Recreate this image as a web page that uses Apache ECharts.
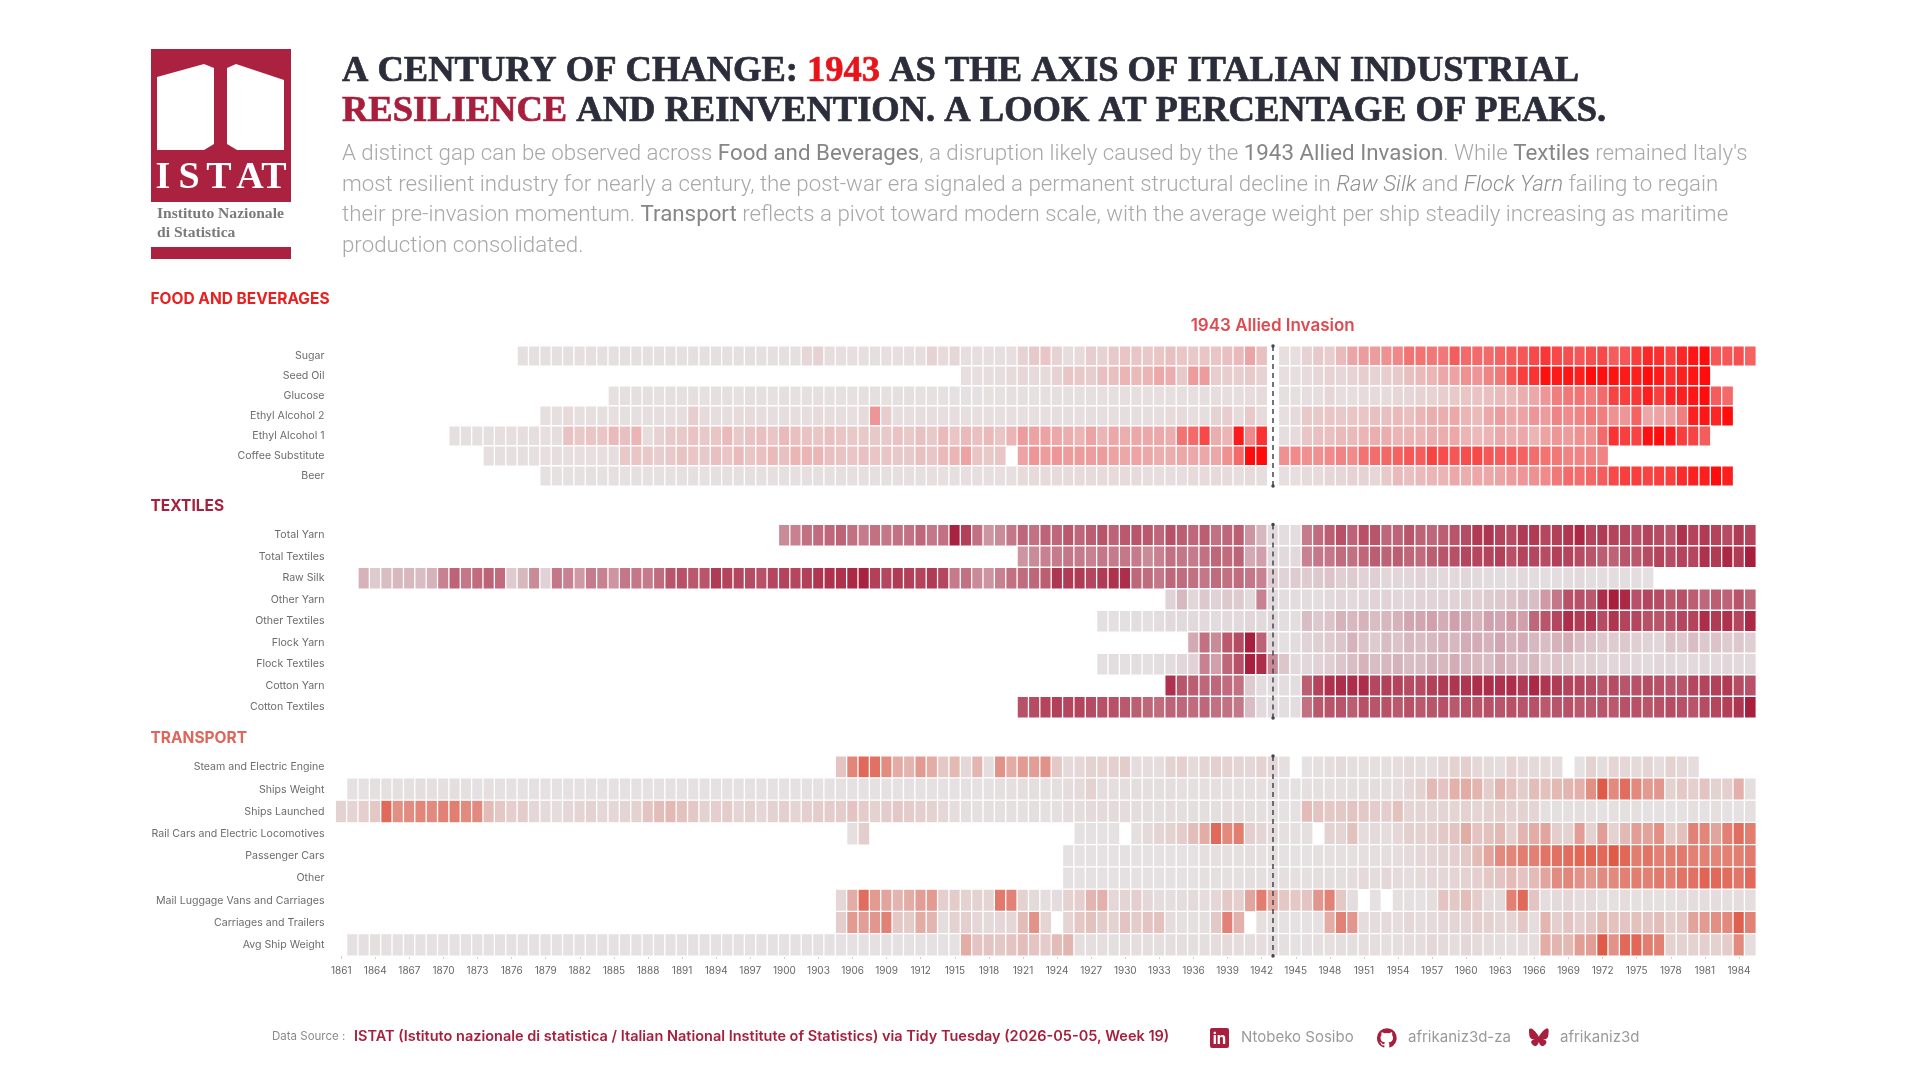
<!DOCTYPE html>
<html>
<head>
<meta charset="utf-8">
<title>A Century of Change</title>
<script src="https://cdn.jsdelivr.net/npm/echarts@6/dist/echarts.min.js"></script>
<style>
  html, body { margin: 0; padding: 0; background: #ffffff; }
  #chart { width: 1920px; height: 1080px; }
</style>
</head>
<body>
<div id="chart"></div>
<script>
// Year axis shared by the three panels
const years = Array.from({ length: 125 }, (_, i) => String(1861 + i));

// Each line of values is a share of that indicator's peak (0-100); null is a missing year
const row = (start, values) => Array(start - 1861).fill(null).concat(values);
const _ = null;

// Food and beverages
const sugar = row(1877, [8,8,8,9,
  8,9,10,8,9,8,9,9,8,8, 9,8,8,9,8,9,8,8,8,9, 9,16,18,12,10,10,10,9,10,10, 9,12,18,14,16,10,10,10,10,10,
  18,22,24,18,12,14,20,18,22,24, 24,22,24,26,24,22,24,24,26,28, 35,26,_,10,10,18,22,20,28,35,
  38,38,42,45,52,52,50,50,60,55, 55,55,58,60,62,68,75,68,65,62, 65,68,60,62,72,85,80,70,85,95, 100,62,62,65,58]);
const seedOil = row(1916, [10,10,12,12,14,
  16,14,14,18,24,22,20,26,26,30, 28,30,34,32,22,38,38,20,20,20, 22,18,_,10,10,14,16,18,16,18,
  20,18,20,22,26,28,30,34,36,42, 40,46,50,62,72,78,98,92,95,90, 100,98,96,92,90,100,92,80,88,95, 100]);
const glucose = row(1885, [7,8,8,9,7,8,
  8,8,7,8,8,7,8,8,7,8, 7,8,8,7,7,7,8,8,7,8, 8,7,7,7,6,6,6,7,7,8,
  8,7,8,8,8,9,9,10,9,10, 10,10,10,9,10,10,12,12,12,12, 13,14,_,9,9,12,12,16,12,12,
  14,14,14,16,16,18,18,20,22,24, 25,26,28,28,32,34,40,48,50,52, 48,55,70,72,75,90,72,85,88,95, 100,60,55]);
const ethylAlcohol2 = row(1879, [8,10,
  14,9,10,9,10,9,9,12,12,10, 12,20,14,12,12,14,14,12,12,12, 12,12,14,12,12,10,14,40,20,12, 12,12,12,12,12,10,10,10,10,10,
  10,10,10,12,12,10,12,12,12,12, 12,12,12,14,14,12,12,18,20,14, 22,14,_,10,14,22,22,24,22,24,
  24,26,26,28,26,30,32,32,34,30, 28,34,38,34,36,40,38,46,44,46, 50,48,42,40,58,34,36,38,48,88, 95,85,100]);
const ethylAlcohol1 = row(1871, [8,8,9,9,10,10,12,12,10,12,
  25,22,24,24,28,26,30,13,18,22, 22,25,22,24,28,22,25,26,24,28, 26,25,24,26,24,22,22,22,22,25, 22,26,22,28,24,28,26,28,24,30,
  38,36,36,34,32,30,36,30,34,32, 34,34,34,32,52,55,68,32,30,92, 45,78,_,12,14,24,26,26,28,28,
  30,32,32,30,30,30,32,32,34,30, 28,30,34,32,34,30,36,40,38,42, 42,55,78,72,70,98,100,92,72,70, 60]);
const coffeeSubstitute = row(1874, [8,8,8,9,9,10,12,
  11,10,10,10,12,22,24,22,20,22, 25,24,22,26,24,28,24,26,28,26, 30,30,30,26,25,24,26,24,24,22, 22,26,24,28,30,36,24,22,24,_,
  36,40,38,40,38,38,38,38,36,34, 36,34,32,32,34,34,34,34,42,55, 100,100,_,42,44,42,42,44,46,44,
  52,54,56,58,62,60,70,66,62,66, 68,62,60,60,58,54,52,50,46,46, 46,46]);
const beer = row(1879, [7,7,
  7,7,8,7,8,7,8,7,7,7, 8,8,7,8,8,8,8,8,8,8, 8,8,8,8,8,8,9,9,9,10, 10,9,10,10,9,10,10,10,10,10,
  14,14,14,14,14,14,14,14,14,14, 14,12,12,12,12,14,14,14,14,12, 14,12,_,10,10,14,14,16,16,18,
  18,16,22,28,26,28,30,30,34,32, 34,34,36,38,40,42,44,50,55,54, 56,60,68,72,72,70,72,72,82,88, 90,100,90]);

// Textiles
const totalYarn = row(1900, [45,
  48,55,58,60,62,55,50,55,52,55, 55,60,52,55,98,82,55,42,45,52, 60,55,62,60,68,60,65,70,62,68,
  70,68,60,72,65,60,65,55,60,65, 42,30,12,10,10,50,58,65,72,62, 72,70,60,62,70,62,60,65,70,75,
  85,88,80,75,85,85,78,82,88,95, 80,85,80,78,72,80,75,70,90,80, 85,80,75,85,80]);
const totalTextiles = row(1921, [42,45,48,50,52,50,48,52,50,52,
  50,45,48,55,52,50,55,60,58,62, 35,38,14,14,14,48,52,52,58,55, 60,65,62,65,60,58,65,70,72,78,
  78,80,82,72,80,78,75,82,80,75, 70,65,62,70,68,75,80,75,80,78, 90,85,95,85,100]);
const rawSilk = row(1863, [32,22,28,30,30,28,32,48,
  62,52,58,62,58,22,30,45,18,52, 48,40,50,48,42,52,52,50,58,70, 72,68,70,85,80,78,75,72,78,80,
  78,82,88,90,90,95,98,82,78,85, 82,80,85,78,50,55,45,42,48,55, 58,60,65,88,85,85,78,85,90,92,
  60,58,52,60,58,55,52,58,55,58, 52,48,20,18,22,22,24,26,20,22, 18,20,16,16,16,18,16,14,14,16,
  14,12,12,12,14,12,10,10,12,14, 10,10,10,10,10,8]);
const otherYarn = row(1934, [18,30,16,24,18,24,22,
  14,48,14,10,12,12,10,14,16,14, 16,18,18,16,16,18,18,18,18,20, 20,22,24,26,28,28,40,52,72,72,
  68,92,100,95,72,78,75,68,72,65, 60,65,62,70,60]);
const otherTextiles = row(1928, [8,8,8,
  10,8,10,14,14,14,14,12,14,14, 16,14,14,10,10,28,24,26,32,30, 32,28,30,32,36,36,38,34,38,36,
  32,38,36,40,38,60,70,78,92,85, 88,75,88,80,78,72,70,72,78,80, 92,85,90,78,95]);
const flockYarn = row(1936, [35,55,45,68,75,
  100,62,14,8,12,18,20,22,25,32, 26,22,28,26,30,28,30,32,30,34, 34,32,36,32,34,30,28,32,34,28,
  26,24,22,24,20,18,16,26,24,28, 24,26,22,24,20]);
const flockTextiles = row(1928, [8,10,8,
  10,8,10,12,16,18,48,38,60,72, 100,92,45,25,14,16,18,20,25,28, 32,28,30,32,28,28,32,30,34,32,
  30,28,34,30,28,30,24,26,24,18, 20,18,16,18,16,14,16,16,14,14, 16,14,16,14,14]);
const cottonYarn = row(1934, [90,70,65,60,60,58,55,
  22,12,10,10,10,65,80,90,92,92, 92,78,82,80,75,75,82,85,88,88, 92,92,90,92,85,95,88,85,80,78,
  75,70,75,70,72,75,72,70,70,78, 80,82,85,75,72]);
const cottonTextiles = row(1921, [72,75,80,82,78,80,75,72,72,68,
  65,60,58,62,60,58,60,55,55,52, 28,14,12,10,10,55,68,70,70,65, 72,70,72,68,72,68,70,72,68,72,
  70,72,70,72,70,72,68,70,72,68, 68,70,68,72,72,70,72,75,72,70, 75,78,82,88,100]);

// Transport
const steamElectricEngine = row(1905, [30,65,88,82,60,42,
  38,50,42,28,36,18,38,14,55,42, 50,48,55,28,16,18,22,22,24,26, 14,14,14,22,24,16,20,24,22,20,
  18,22,18,10,_,8,10,14,16,12, 10,10,12,14,16,14,14,18,22,24, 18,16,14,22,18,16,16,14,_,8,
  22,14,20,18,16,20,14,22,18,14]);
const shipsWeight = row(1862, [7,8,9,10,9,10,12,10,10,
  12,10,8,10,7,7,7,7,6,6, 6,6,6,6,6,7,7,7,7,7, 7,6,6,6,6,7,6,6,6,6, 6,6,6,6,6,6,6,6,6,6,
  6,6,8,7,8,8,8,8,10,10, 12,12,10,12,14,16,22,14,12,12, 12,12,12,12,10,10,10,10,10,10, 10,10,10,8,8,10,10,10,10,12,
  12,14,12,14,18,22,36,30,40,42, 38,26,38,32,26,34,32,36,38,40, 58,100,62,85,62,50,52,22,28,24, 30,22,24,40,12]);
const shipsLaunched = row(1861, [22,20,24,28,88,58,60,65,62,68,
  72,62,62,35,28,24,26,18,16,14, 18,20,22,18,18,20,22,30,34,36, 32,28,22,24,26,20,22,18,22,24, 20,24,26,26,26,30,26,22,26,28,
  26,24,22,18,14,12,10,10,10,10, 10,12,10,10,14,14,16,16,16,14, 14,12,12,14,12,12,12,12,14,14, 12,12,10,8,8,35,30,28,28,30,
  28,26,25,32,20,20,20,20,20,22, 20,22,24,22,22,20,10,10,10,12, 10,8,10,10,10,8,8,8,8,10, 8,10,8,8,10]);
const railCarsLocomotives = row(1906, [10,25,_,_,_,
  _,_,_,_,_,_,_,_,_,_, _,_,_,_,_,8,8,8,8,_, 10,16,20,22,26,34,42,88,62,72, 24,20,14,10,10,10,_,22,20,32,
  14,16,14,18,24,22,24,28,30,42, 30,32,36,24,38,42,45,25,22,48, 22,48,22,36,48,46,58,26,32,68, 65,45,70,85,72]);
const passengerCars = row(1925, [8,8,8,8,8,8,
  8,8,8,8,8,8,10,10,10,10, 12,10,10,8,8,8,10,10,10,10, 10,12,12,14,16,18,20,22,24,28,
  35,45,62,65,72,70,80,82,85,90, 92,88,100,90,72,80,70,72,75,70, 68,65,70,72,75]);
const otherTransport = row(1925, [8,8,8,8,8,8,
  8,8,8,8,8,8,10,10,10,10, 12,12,10,10,10,10,12,12,12,14, 16,14,18,16,14,16,18,18,20,22,
  24,28,30,35,30,35,45,60,65,55, 50,60,62,70,72,70,75,70,80,82, 92,88,85,78,88]);
const mailLuggageVans = row(1905, [18,42,85,50,45,38,
  42,48,50,24,26,22,22,20,75,68, 22,16,12,14,22,24,38,40,18,20, 24,18,14,12,14,16,14,18,28,24,
  45,72,42,28,28,30,52,68,28,14, _,8,_,10,10,8,14,30,28,34, 26,16,16,70,88,30,14,16,18,14,
  16,12,10,14,10,12,10,10,14,14, 14,14,12,14,12]);
const carriagesTrailers = row(1905, [25,50,48,52,68,28,
  26,42,38,14,22,24,18,16,18,18, 35,55,20,_,20,28,32,26,22,30, 26,30,32,14,10,10,12,28,68,40,
  _,10,10,8,8,8,8,42,68,52, 14,14,16,14,18,14,16,18,20,20, 24,22,18,20,28,14,38,24,30,24,
  28,36,32,30,32,30,34,26,28,46, 50,58,62,95,68]);
const avgShipWeight = row(1862, [8,9,10,10,8,8,8,8,8,
  8,8,8,7,7,7,7,7,7,7, 7,7,8,7,7,7,7,7,7,7, 7,7,7,7,7,7,8,8,8,8, 8,8,8,8,8,8,8,8,8,8,
  8,8,8,8,8,42,30,30,28,30, 34,30,26,35,38,12,12,12,12,12, 12,12,12,12,12,12,12,14,16,14, 14,14,14,10,8,10,10,10,12,12,
  12,12,10,12,14,14,18,16,14,18, 16,14,12,12,14,14,42,38,36,48, 48,100,55,88,90,72,70,22,22,22, 24,22,26,62,14]);

const foodLabels = ['Sugar', 'Seed Oil', 'Glucose', 'Ethyl Alcohol 2', 'Ethyl Alcohol 1', 'Coffee Substitute', 'Beer'];
const foodRows = [sugar, seedOil, glucose, ethylAlcohol2, ethylAlcohol1, coffeeSubstitute, beer];
const textileLabels = ['Total Yarn', 'Total Textiles', 'Raw Silk', 'Other Yarn', 'Other Textiles', 'Flock Yarn', 'Flock Textiles', 'Cotton Yarn', 'Cotton Textiles'];
const textileRows = [totalYarn, totalTextiles, rawSilk, otherYarn, otherTextiles, flockYarn, flockTextiles, cottonYarn, cottonTextiles];
const transportLabels = ['Steam and Electric Engine', 'Ships Weight', 'Ships Launched', 'Rail Cars and Electric Locomotives', 'Passenger Cars', 'Other', 'Mail Luggage Vans and Carriages', 'Carriages and Trailers', 'Avg Ship Weight'];
const transportRows = [steamElectricEngine, shipsWeight, shipsLaunched, railCarsLocomotives, passengerCars, otherTransport, mailLuggageVans, carriagesTrailers, avgShipWeight];

const sans = 'Inter, "Noto Sans", sans-serif';
const serif = '"Liberation Serif", serif';
const DARK = '#2c2d3a', BRICK = '#a81f3d';
const GREY_RGB = [229, 227, 228];

// Blend positions along the grey-to-colour ramp, at share steps of 12.5
const softCurve = [0, 0.03, 0.15, 0.32, 0.5, 0.66, 0.8, 0.9, 1];
const midCurve = [0, 0.035, 0.15, 0.33, 0.53, 0.66, 0.77, 0.88, 1];

const ramp = (rgb, curve) => curve.map(t =>
  'rgb(' + GREY_RGB.map((g, j) => Math.round(g + (rgb[j] - g) * t)).join(',') + ')');

const panels = [
  { labels: foodLabels, rows: foodRows, top: 346, height: 140, rgb: [255, 12, 12], curve: softCurve, title: 'FOOD AND BEVERAGES', titleColor: '#e8201f', titleY: 299 },
  { labels: textileLabels, rows: textileRows, top: 524.5, height: 193.5, rgb: [168, 31, 61], curve: midCurve, title: 'TEXTILES', titleColor: BRICK, titleY: 506 },
  { labels: transportLabels, rows: transportRows, top: 756, height: 200, rgb: [224, 90, 72], curve: midCurve, title: 'TRANSPORT', titleColor: '#e0655a', titleY: 738 }
];

const cells = rows => rows.flatMap((vals, y) =>
  vals.map((v, x) => (v == null ? null : [x, y, v])).filter(Boolean));

// Credit icons as registered path shapes on a 24-unit box
const GithubIcon = echarts.graphic.extendPath('M12 .3a12 12 0 0 0-3.8 23.4c.6.1.8-.3.8-.6v-2c-3.3.7-4-1.6-4-1.6-.6-1.4-1.4-1.8-1.4-1.8-1-.7.1-.7.1-.7 1.2 0 1.9 1.2 1.9 1.2 1 1.8 2.8 1.3 3.5 1 0-.8.4-1.3.7-1.6-2.7-.3-5.5-1.3-5.5-6 0-1.2.5-2.3 1.3-3.1-.2-.4-.6-1.6 0-3.2 0 0 1-.3 3.4 1.2a11.5 11.5 0 0 1 6 0c2.3-1.5 3.3-1.2 3.3-1.2.6 1.6.2 2.8 0 3.2.9.8 1.3 1.9 1.3 3.2 0 4.6-2.8 5.6-5.5 5.9.5.4.9 1 .9 2.2v3.3c0 .3.1.7.8.6A12 12 0 0 0 12 .3z', {});
const ButterflyIcon = echarts.graphic.extendPath('M5.2 2.1C8 4.2 10.9 8.4 12 10.6c1.1-2.2 4-6.4 6.8-8.5 2-1.5 5.2-2.6 5.2 1.1 0 .7-.4 6.2-.7 7.1-.9 3.1-4 3.9-6.8 3.4 4.9.8 6.1 3.6 3.4 6.3-5.1 5.2-7.3-1.3-7.9-3-.6 1.7-2.8 8.2-7.9 3-2.7-2.7-1.5-5.5 3.4-6.3-2.8.5-5.9-.3-6.8-3.4C.4 9.4 0 3.9 0 3.2 0-.5 3.2.6 5.2 2.1z', {});
echarts.graphic.registerShape('githubIcon', GithubIcon);
echarts.graphic.registerShape('butterflyIcon', ButterflyIcon);

function buildDecor() {
  const text = (x, y, t, font, fill, extra) => ({
    type: 'text', x, y, silent: true,
    style: Object.assign({ text: t, font, fill, textVerticalAlign: 'middle' }, extra || {})
  });
  const els = [];

  // Institute mark
  els.push({ type: 'rect', shape: { x: 151, y: 49, width: 140, height: 153 }, style: { fill: '#ab2140' } });
  els.push({ type: 'polygon', shape: { points: [[157, 77], [204, 64], [214, 68], [214, 144], [204, 150], [157, 150]] }, style: { fill: '#ffffff' } });
  els.push({ type: 'polygon', shape: { points: [[227, 68], [236, 64], [284, 80], [284, 150], [237, 150], [227, 144]] }, style: { fill: '#ffffff' } });
  [['I', 163], ['S', 189], ['T', 219], ['A', 250], ['T', 274]].forEach(([ch, cx]) =>
    els.push(text(cx, 178, ch, 'bold 38px ' + serif, '#ffffff', { textAlign: 'center' })));
  els.push(text(157, 214, 'Instituto Nazionale', 'bold 15.6px ' + serif, '#7a7a7a'));
  els.push(text(157, 233, 'di Statistica', 'bold 15.6px ' + serif, '#7a7a7a'));
  els.push({ type: 'rect', shape: { x: 151, y: 247, width: 140, height: 12 }, style: { fill: '#ab2140' } });

  // Headline, thickened slightly with a same-colour stroke
  const headFont = 'bold 36.5px ' + serif;
  const head = fill => ({ font: headFont, fill, stroke: fill, lineWidth: 0.7 });
  els.push({
    type: 'text', x: 342, y: 72, silent: true,
    style: {
      text: '{d|A CENTURY OF CHANGE: }{r|1943}{d| AS THE AXIS OF ITALIAN INDUSTRIAL}',
      textVerticalAlign: 'middle',
      rich: { d: head(DARK), r: head('#e8141c') }
    }
  });
  els.push({
    type: 'text', x: 342, y: 111.5, silent: true,
    style: {
      text: '{b|RESILIENCE}{d| AND REINVENTION. A LOOK AT PERCENTAGE OF PEAKS.}',
      textVerticalAlign: 'middle',
      rich: { d: head(DARK), b: head(BRICK) }
    }
  });

  // Standfirst
  const richBody = {
    n: { font: '300 22.3px Roboto', fill: '#a8a8a8' },
    s: { font: '400 22.3px Roboto', fill: '#868686' },
    i: { font: 'italic 300 22.3px Roboto', fill: '#8f8f8f' }
  };
  [
    ['{n|A distinct gap can be observed across }{s|Food and Beverages}{n|, a disruption likely caused by the }{s|1943 Allied Invasion}{n|. While }{s|Textiles}{n| remained Italy\'s}', 154],
    ['{n|most resilient industry for nearly a century, the post-war era signaled a permanent structural decline in }{i|Raw Silk}{n| and }{i|Flock Yarn}{n| failing to regain}', 185],
    ['{n|their pre-invasion momentum. }{s|Transport}{n| reflects a pivot toward modern scale, with the average weight per ship steadily increasing as maritime}', 215.5],
    ['{n|production consolidated.}', 246]
  ].forEach(([t, y]) => els.push({
    type: 'text', x: 342, y, silent: true,
    style: { text: t, textVerticalAlign: 'middle', rich: richBody }
  }));

  // Section headings and the event label
  panels.forEach(p => els.push(text(150.5, p.titleY, p.title, 'bold 15.5px ' + sans, p.titleColor)));
  els.push(text(1272.7, 326, '1943 Allied Invasion', '600 17px ' + sans, '#df4a50', { textAlign: 'center' }));

  // Source line and credits
  els.push(text(272, 1037, 'Data Source :', '11.5px ' + sans, '#8c8c8c'));
  els.push(text(354, 1037, 'ISTAT (Istituto nazionale di statistica / Italian National Institute of Statistics) via Tidy Tuesday (2026-05-05, Week 19)', '600 14.5px ' + sans, BRICK));
  els.push({ type: 'rect', shape: { x: 1210, y: 1028, width: 19, height: 20, r: 2 }, style: { fill: BRICK } });
  els.push(text(1219.5, 1039, 'in', 'bold 15px ' + sans, '#ffffff', { textAlign: 'center' }));
  els.push(text(1241, 1037, 'Ntobeko Sosibo', '15px ' + sans, '#9a9a9a'));
  els.push({ type: 'githubIcon', x: 1377, y: 1028, scaleX: 0.82, scaleY: 0.82, silent: true, style: { fill: BRICK } });
  els.push(text(1408, 1037, 'afrikaniz3d-za', '15px ' + sans, '#9a9a9a'));
  els.push({ type: 'butterflyIcon', x: 1529, y: 1028, scaleX: 0.82, scaleY: 0.82, silent: true, style: { fill: BRICK } });
  els.push(text(1560, 1037, 'afrikaniz3d', '15px ' + sans, '#9a9a9a'));
  return els;
}

const option = {
  backgroundColor: '#ffffff',
  animation: false,
  grid: panels.map(p => ({ left: 335.5, width: 1420.5, top: p.top, height: p.height })),
  xAxis: panels.map((p, i) => ({
    type: 'category', gridIndex: i, data: years, show: i === 2,
    axisLine: { show: false },
    axisTick: { show: i === 2, interval: 2, alignWithLabel: true, length: 3, lineStyle: { color: '#cfcfcf' } },
    axisLabel: { interval: 2, margin: 10, fontFamily: sans, fontSize: 10, color: '#666666' },
    splitLine: { show: false }
  })),
  yAxis: panels.map((p, i) => ({
    type: 'category', gridIndex: i, data: p.labels, inverse: true,
    axisLine: { show: false }, axisTick: { show: false }, splitLine: { show: false },
    axisLabel: { margin: 11, fontFamily: sans, fontSize: 10.6, color: '#6c6c6c', padding: [2, 0, 0, 0] }
  })),
  visualMap: panels.map((p, i) => ({
    show: false, type: 'continuous', seriesIndex: i, dimension: 2, min: 0, max: 100,
    inRange: { color: ramp(p.rgb, p.curve) }
  })),
  series: panels.map((p, i) => ({
    type: 'heatmap', xAxisIndex: i, yAxisIndex: i, data: cells(p.rows),
    itemStyle: { borderColor: '#ffffff', borderWidth: 1.3 },
    emphasis: { disabled: true },
    progressive: 0,
    markLine: {
      silent: true, animation: false,
      symbol: ['circle', 'circle'], symbolSize: 3.5,
      label: { show: false },
      lineStyle: { color: '#444450', type: [5, 4], width: 1.5 },
      data: [{ xAxis: '1943' }]
    }
  })),
  graphic: { elements: buildDecor() }
};

const chart = echarts.init(document.getElementById('chart'), null, { renderer: 'canvas' });
chart.setOption(option);
</script>
</body>
</html>
